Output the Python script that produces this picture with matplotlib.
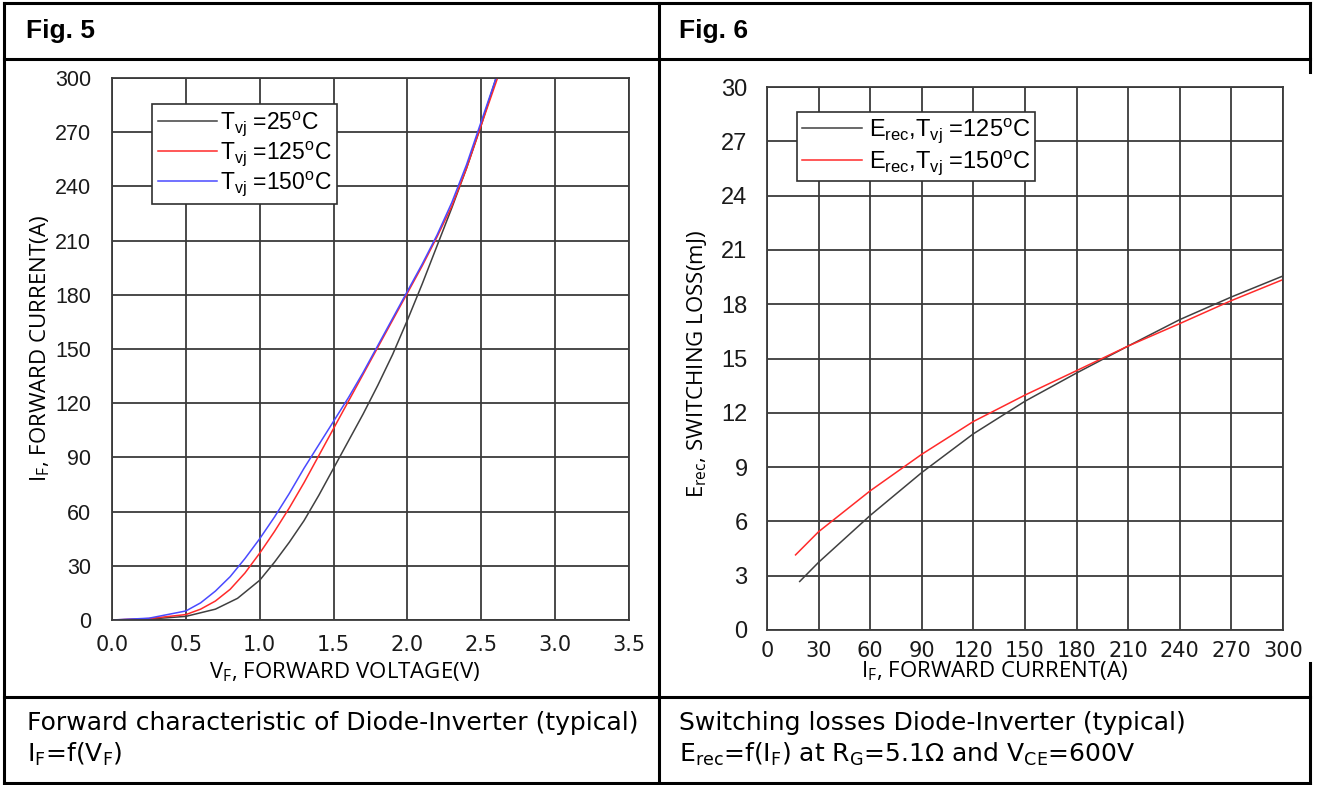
import matplotlib.pyplot as plt
from matplotlib.lines import Line2D

plt.rcParams['font.family'] = ['Liberation Sans', 'DejaVu Sans']
plt.rcParams['mathtext.default'] = 'regular'

# Fig. 5: forward characteristic I_F = f(V_F)
vf_25 = [0.0, 0.25, 0.5, 0.7, 0.85, 1.0, 1.1, 1.2, 1.3, 1.4, 1.5, 1.6, 1.7, 1.8, 1.9, 2.0, 2.1, 2.2, 2.3, 2.4, 2.5, 2.6]
if_25 = [0, 0.5, 2, 6, 12, 22, 32, 43, 55, 69, 84, 99, 114, 130, 147, 166, 186, 207, 228, 250, 274, 300]

vf_125 = [0.0, 0.25, 0.5, 0.6, 0.7, 0.8, 0.9, 1.0, 1.1, 1.2, 1.3, 1.4, 1.5, 1.6, 1.7, 1.8, 1.9, 2.0, 2.1, 2.2, 2.3, 2.4, 2.5, 2.61]
if_125 = [0, 0.8, 3, 6, 10.5, 17, 26, 37, 49, 62, 76, 91, 106, 121, 136, 151, 166, 181, 196, 212, 229, 250, 274, 300]

vf_150 = [0.0, 0.25, 0.5, 0.6, 0.7, 0.8, 0.9, 1.0, 1.1, 1.2, 1.3, 1.4, 1.5, 1.6, 1.7, 1.8, 1.9, 2.0, 2.1, 2.2, 2.3, 2.4, 2.5, 2.6]
if_150 = [0, 1.0, 5, 9.5, 16, 24, 34, 45, 57, 70, 84, 97, 110, 123, 137, 152, 167, 182, 197, 213, 231, 252, 276, 300]

# Fig. 6: switching losses E_rec = f(I_F)
i_125 = [19, 30, 60, 90, 120, 150, 180, 210, 240, 270, 300]
e_125 = [2.68, 3.74, 6.33, 8.7, 10.84, 12.64, 14.2, 15.69, 17.15, 18.4, 19.56]
i_150 = [16.6, 30, 60, 90, 120, 150, 180, 210, 240, 270, 300]
e_150 = [4.15, 5.43, 7.69, 9.71, 11.52, 12.98, 14.33, 15.69, 16.93, 18.2, 19.36]

vf_ticks = [0.0, 0.5, 1.0, 1.5, 2.0, 2.5, 3.0, 3.5]
vf_labels = ['0.0', '0.5', '1.0', '1.5', '2.0', '2.5', '3.0', '3.5']
if_ticks = list(range(0, 301, 30))
e_ticks = list(range(0, 31, 3))

W, H = 1318, 785
fig = plt.figure(figsize=(W / 100, H / 100), dpi=100)

def px_axes(x0, y0, x1, y1):
    return fig.add_axes([x0 / W, 1 - y1 / H, (x1 - x0) / W, (y1 - y0) / H])

def fx(x):
    return x / W

def fy(y):
    return 1 - y / H

# table borders
def hline(y, x0, x1, lw=2.2):
    fig.add_artist(Line2D([fx(x0), fx(x1)], [fy(y), fy(y)], color='black', lw=lw))

def vline(x, y0, y1, lw=2.2):
    fig.add_artist(Line2D([fx(x), fx(x)], [fy(y0), fy(y1)], color='black', lw=lw))

hline(3, 4, 1310)
hline(59, 4, 1310)
hline(697, 4, 1310)
hline(783, 4, 1310)
vline(4, 3, 783)
vline(659, 3, 783)
vline(1310, 3, 72)
vline(1310, 663, 783)

fig.text(fx(26), fy(31), 'Fig. 5', fontsize=19, fontweight='bold', va='center')
fig.text(fx(679), fy(31), 'Fig. 6', fontsize=19, fontweight='bold', va='center')

foot = dict(fontsize=18, family='DejaVu Sans', va='baseline')
fig.text(fx(27), fy(730), 'Forward characteristic of Diode-Inverter (typical)', **foot)
fig.text(fx(27), fy(762), '$I_F$=f($V_F$)', **foot)
fig.text(fx(679), fy(730), 'Switching losses Diode-Inverter (typical)', **foot)
fig.text(fx(679), fy(762), '$E_{rec}$=f($I_F$) at $R_G$=5.1Ω and $V_{CE}$=600V', **foot)

grid_col = '#3a3a3a'
tick_col = '#1a1a1a'

def style(ax):
    ax.grid(True, color=grid_col, lw=1.3)
    ax.set_axisbelow(True)
    for s in ax.spines.values():
        s.set_color(grid_col)
        s.set_linewidth(1.3)
    ax.tick_params(length=0, labelsize=15.5, colors=tick_col)
    ax.tick_params(axis='y', pad=15)

def leg(ax, x, y, fs, hl, htp, ls, bp):
    lg = ax.legend(loc='upper left', bbox_to_anchor=(fx(x), fy(y)), bbox_transform=fig.transFigure,
                   borderaxespad=0, fontsize=fs, fancybox=False, framealpha=1, edgecolor='#303030',
                   handlelength=hl, handletextpad=htp, labelspacing=ls, borderpad=bp)
    lg.get_frame().set_linewidth(1.2)
    return lg

lab = dict(family='Open Sans', fontsize=16)

# left chart
ax1 = px_axes(112, 78, 629, 620)
ax1.plot(vf_25, if_25, color='#404040', lw=1.1, label='$T_{vj}$ =25$^o$C')
ax1.plot(vf_125, if_125, color='#ff2a2a', lw=1.1, label='$T_{vj}$ =125$^o$C')
ax1.plot(vf_150, if_150, color='#4a4aff', lw=1.1, label='$T_{vj}$ =150$^o$C')
ax1.set_xlim(0, 3.5)
ax1.set_ylim(0, 300)
ax1.set_yticks(if_ticks)
style(ax1)
ax1.set_xticks(vf_ticks)
ax1.set_xticklabels(vf_labels, family='DejaVu Sans', fontsize=15)
ax1.tick_params(axis='x', pad=11)
ax1.set_xlabel('$V_F$, FORWARD VOLTAGE(V)', **lab)
ax1.xaxis.set_label_coords(0.45, -0.074)
ax1.set_ylabel('$I_F$, FORWARD CURRENT(A)', **lab)
ax1.yaxis.set_label_coords(-0.116, 0.5)
leg(ax1, 152, 104, 16.5, 2.6, 0.1, 0.05, 0.25)

# right chart
ax2 = px_axes(767, 87, 1283, 630)
ax2.plot(i_125, e_125, color='#404040', lw=1.1, label='$E_{rec}$,$T_{vj}$ =125$^o$C')
ax2.plot(i_150, e_150, color='#ff2a2a', lw=1.1, label='$E_{rec}$,$T_{vj}$ =150$^o$C')
ax2.set_xlim(0, 300)
ax2.set_ylim(0, 30)
ax2.set_yticks(e_ticks)
style(ax2)
ax2.tick_params(axis='y', labelsize=17, pad=14)
ax2.set_xticks(if_ticks)
ax2.set_xticklabels([str(v) for v in if_ticks], family='DejaVu Sans', fontsize=15)
ax2.tick_params(axis='x', pad=8)
ax2.set_xlabel('$I_F$, FORWARD CURRENT(A)', **lab)
ax2.xaxis.set_label_coords(0.44, -0.054)
ax2.set_ylabel('$E_{rec}$, SWITCHING LOSS(mJ)', **lab)
ax2.yaxis.set_label_coords(-0.113, 0.49)
leg(ax2, 797, 112, 17, 2.55, 0.3, 0.12, 0.2)

fig.savefig('out.png', dpi=100)
